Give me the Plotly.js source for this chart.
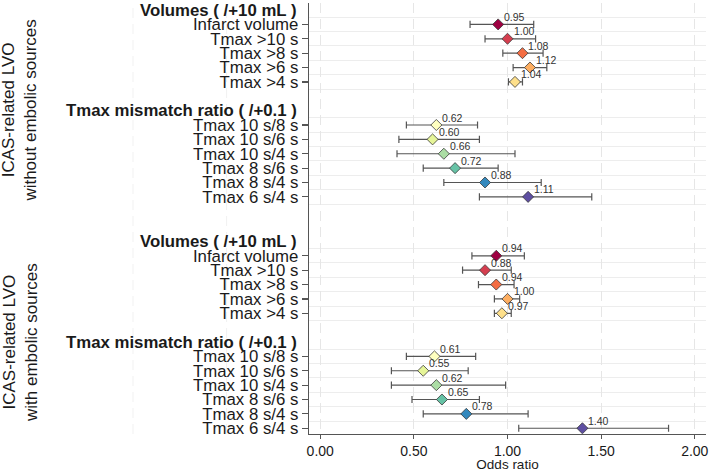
<!DOCTYPE html>
<html>
<head>
<meta charset="utf-8">
<script src="https://cdn.plot.ly/plotly-3.0.1.min.js"></script>
<style>html,body{margin:0;padding:0;background:#fff;}#chart{width:709px;height:472px;}</style>
</head>
<body>
<div id="chart"></div>
<script>
// ---------- data ----------
const groupTitles = ["ICAS-related LVO<br>without embolic sources", "ICAS-related LVO<br>with embolic sources"];
const sectionTitles = ["Volumes ( /+10 mL )", "Tmax mismatch ratio ( /+0.1 )"];
const volumeLabels = ["Infarct volume", "Tmax >10 s", "Tmax >8 s", "Tmax >6 s", "Tmax >4 s"];
const ratioLabels = ["Tmax 10 s/8 s", "Tmax 10 s/6 s", "Tmax 10 s/4 s", "Tmax 8 s/6 s", "Tmax 8 s/4 s", "Tmax 6 s/4 s"];
const volumeColors = ["#9E0142", "#D53E4F", "#F46D43", "#FDAE61", "#FEE08B"];
const ratioColors = ["#FFFFBF", "#E6F598", "#ABDDA4", "#66C2A5", "#3288BD", "#5E4FA2"];

// ICAS-related LVO without embolic sources
const woVolOR   = [0.95, 1.00, 1.08, 1.12, 1.04];
const woVolLow  = [0.80, 0.88, 0.975, 1.03, 1.005];
const woVolHigh = [1.14, 1.15, 1.19, 1.21, 1.08];
const woRatioOR   = [0.62, 0.60, 0.66, 0.72, 0.88, 1.11];
const woRatioLow  = [0.46, 0.42, 0.41, 0.55, 0.66, 0.85];
const woRatioHigh = [0.84, 0.85, 1.04, 0.95, 1.18, 1.45];

// ICAS-related LVO with embolic sources
const wVolOR   = [0.94, 0.88, 0.94, 1.00, 0.97];
const wVolLow  = [0.81, 0.76, 0.845, 0.93, 0.93];
const wVolHigh = [1.09, 1.02, 1.035, 1.065, 1.02];
const wRatioOR   = [0.61, 0.55, 0.62, 0.65, 0.78, 1.40];
const wRatioLow  = [0.46, 0.38, 0.38, 0.49, 0.55, 1.06];
const wRatioHigh = [0.83, 0.79, 0.99, 0.85, 1.11, 1.86];

const xTicks = [0, 0.5, 1.0, 1.5, 2.0];

// ---------- build ----------
const panelStarts = [0, 16.1];
const xRange = [-0.06, 2.06];
const groups = [
  {or: woVolOR.concat(woRatioOR), lo: woVolLow.concat(woRatioLow), hi: woVolHigh.concat(woRatioHigh)},
  {or: wVolOR.concat(wRatioOR), lo: wVolLow.concat(wRatioLow), hi: wVolHigh.concat(wRatioHigh)}
];
const allLabels = volumeLabels.concat(ratioLabels);
const allColors = volumeColors.concat(ratioColors);

const traces = [];
const annotations = [];
const tickvals = [], ticktext = [], minorVals = [];
const FONT = "Liberation Sans, Arial, Helvetica, sans-serif";

groups.forEach((g, gi) => {
  const s = panelStarts[gi];
  const rowPos = [];
  volumeLabels.forEach((_, i) => rowPos.push(s + 1 + i));
  ratioLabels.forEach((_, i) => rowPos.push(s + 8 + i));
  rowPos.forEach((p, i) => {
    tickvals.push(p); ticktext.push(allLabels[i]);
    minorVals.push(p - 0.5, p + 0.5);
  });
  // section headers
  [s, s + 7].forEach((p, k) => {
    annotations.push({
      xref: "paper", yref: "y", x: 0, y: p, xanchor: "right", yanchor: "middle",
      xshift: -10, text: "<b>" + sectionTitles[k] + "</b>", showarrow: false,
      font: {family: FONT, size: 16.8, color: "#1a1a1a"}
    });
  });
  // group title
  annotations.push({
    xref: "paper", yref: "y", x: -0.728, y: s + 7, xanchor: "center", yanchor: "middle",
    text: groupTitles[gi], showarrow: false, textangle: -90,
    font: {family: FONT, size: 17, color: "#1a1a1a"}
  });
  // value labels
  g.or.forEach((v, i) => {
    annotations.push({
      xref: "x", yref: "y", x: v, y: rowPos[i], xanchor: "left", yanchor: "middle",
      xshift: 4, yshift: 7.5, text: v.toFixed(2), showarrow: false,
      font: {family: FONT, size: 10.5, color: "#333333"}
    });
  });
  traces.push({
    type: "scatter", mode: "markers",
    x: g.or, y: rowPos,
    error_x: {
      type: "data", symmetric: false,
      array: g.or.map((v, i) => g.hi[i] - v),
      arrayminus: g.or.map((v, i) => v - g.lo[i]),
      color: "#555555", thickness: 1.2, width: 3.6
    },
    marker: {symbol: "diamond", size: 8.5, color: allColors, line: {color: "#3a3a3a", width: 0.8}},
    hoverinfo: "x+y", showlegend: false
  });
});

// faint dashed guide lines extending into the label area
const shapes = [-1.0, -0.5].map(v => ({
  type: "line", xref: "paper", yref: "paper",
  x0: (v - xRange[0]) / (xRange[1] - xRange[0]), x1: (v - xRange[0]) / (xRange[1] - xRange[0]),
  y0: 0, y1: 1, layer: "below",
  line: {color: "#f1f1f1", width: 1, dash: "10px,6px"}
}));

const layout = {
  width: 709, height: 472,
  margin: {l: 309, r: 3, t: 3, b: 38},
  paper_bgcolor: "#ffffff", plot_bgcolor: "#ffffff",
  font: {family: FONT, color: "#1a1a1a"},
  showlegend: false,
  xaxis: {
    range: xRange, tickvals: xTicks, tickformat: ".2f",
    showgrid: true, gridcolor: "#e6e6e6", griddash: "10px,6px", gridwidth: 1,
    zeroline: false, showline: true, linecolor: "#555555", linewidth: 1.3,
    ticks: "outside", ticklen: 4, tickcolor: "#555555", tickwidth: 1.2,
    tickfont: {family: FONT, size: 14, color: "#1a1a1a"},
    title: {text: "Odds ratio", font: {family: FONT, size: 13.5, color: "#1a1a1a"}, standoff: 2},
    fixedrange: true
  },
  yaxis: {
    range: [29.5, -0.49], tickmode: "array", tickvals: tickvals, ticktext: ticktext,
    showgrid: false, zeroline: false, showline: true, linecolor: "#555555", linewidth: 1.3,
    ticks: "outside", ticklen: 6, tickcolor: "#555555", tickwidth: 1.2,
    tickfont: {family: FONT, size: 16.8, color: "#1a1a1a"},
    minor: {tickmode: "array", tickvals: minorVals, showgrid: true, gridcolor: "#ededed", gridwidth: 1, ticks: ""},
    automargin: false, fixedrange: true
  },
  annotations: annotations,
  shapes: shapes
};

Plotly.newPlot("chart", traces, layout, {displayModeBar: false, staticPlot: true});
</script>
</body>
</html>
